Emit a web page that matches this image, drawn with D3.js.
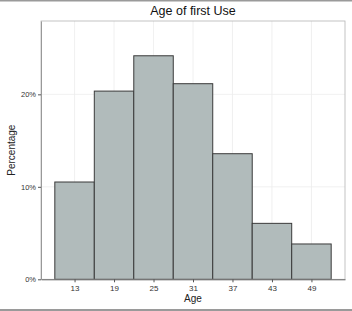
<!DOCTYPE html>
<html>
<head>
<meta charset="utf-8">
<script src="https://cdn.jsdelivr.net/npm/d3@7"></script>
<style>
  html, body { margin: 0; padding: 0; background: #fff; }
  svg { display: block; font-family: "Liberation Sans", Arial, sans-serif; }
</style>
</head>
<body>
<svg id="chart" width="352" height="311"></svg>
<script>
const binCenters = [13, 19, 25, 31, 37, 43, 49];
const percentages = [10.52, 20.35, 24.17, 21.15, 13.58, 6.05, 3.82];
const xTicks = [13, 19, 25, 31, 37, 43, 49];
const yTicks = [0, 10, 20];
const yTickLabels = ["0%", "10%", "20%"];
const binWidth = 6;

const svg = d3.select("#chart");
const W = 352, H = 311;
const panel = { left: 41, right: 345, top: 21, bottom: 279.3 };

// outer frame lines (top and bottom)
svg.append("rect").attr("x", 0).attr("y", 0).attr("width", W).attr("height", 1.5).attr("fill", "#9a9a9a");
svg.append("rect").attr("x", 0).attr("y", 309).attr("width", W).attr("height", 2).attr("fill", "#9a9a9a");

const x = d3.scaleLinear().domain([7.9, 54.1]).range([panel.left, panel.right]);
const y = d3.scaleLinear().domain([0, 27.93]).range([panel.bottom, panel.top]);

// grid
const grid = svg.append("g");
grid.selectAll("line.vx").data(xTicks).join("line")
  .attr("x1", d => x(d)).attr("x2", d => x(d))
  .attr("y1", panel.top).attr("y2", panel.bottom)
  .attr("stroke", "#ececec").attr("stroke-width", 0.8);
grid.selectAll("line.hy").data(yTicks.slice(1)).join("line")
  .attr("x1", panel.left).attr("x2", panel.right)
  .attr("y1", d => y(d)).attr("y2", d => y(d))
  .attr("stroke", "#ececec").attr("stroke-width", 0.8);

// bars
svg.append("g").selectAll("rect").data(binCenters).join("rect")
  .attr("x", d => x(d - binWidth / 2))
  .attr("width", d => x(d + binWidth / 2) - x(d - binWidth / 2))
  .attr("y", (d, i) => y(percentages[i]))
  .attr("height", (d, i) => y(0) - y(percentages[i]))
  .attr("fill", "#b1bbbb")
  .attr("stroke", "#3a3a3a")
  .attr("stroke-width", 1);

// panel border
svg.append("rect")
  .attr("x", panel.left).attr("y", panel.top)
  .attr("width", panel.right - panel.left).attr("height", panel.bottom - panel.top)
  .attr("fill", "none").attr("stroke", "#b5b5b5").attr("stroke-width", 0.8);

// axes
const xAxis = d3.axisBottom(x).tickValues(xTicks).tickSize(3).tickSizeOuter(0).tickPadding(3);
const gx = svg.append("g").attr("transform", `translate(0,${panel.bottom})`).call(xAxis);
gx.select(".domain").attr("stroke", "#666");
gx.selectAll(".tick line").attr("stroke", "#555");
gx.selectAll(".tick text").attr("font-size", 8).attr("fill", "#333").attr("font-family", "Liberation Sans, Arial, sans-serif");

const yAxis = d3.axisLeft(y).tickValues(yTicks).tickFormat((d, i) => yTickLabels[i]).tickSize(3).tickSizeOuter(0).tickPadding(2);
const gy = svg.append("g").attr("transform", `translate(${panel.left},0)`).call(yAxis);
gy.select(".domain").attr("stroke", "#999");
gy.selectAll(".tick line").attr("stroke", "#555");
gy.selectAll(".tick text").attr("font-size", 7.5).attr("fill", "#333").attr("font-family", "Liberation Sans, Arial, sans-serif");

// titles
svg.append("text").attr("x", (panel.left + panel.right) / 2).attr("y", 15)
  .attr("text-anchor", "middle").attr("font-size", 12.5).attr("fill", "#111")
  .text("Age of first Use");
svg.append("text").attr("x", (panel.left + panel.right) / 2).attr("y", 302)
  .attr("text-anchor", "middle").attr("font-size", 10).attr("fill", "#222")
  .text("Age");
svg.append("text")
  .attr("transform", `translate(15,${(panel.top + panel.bottom) / 2}) rotate(-90)`)
  .attr("text-anchor", "middle").attr("font-size", 10).attr("fill", "#222")
  .text("Percentage");
</script>
</body>
</html>
